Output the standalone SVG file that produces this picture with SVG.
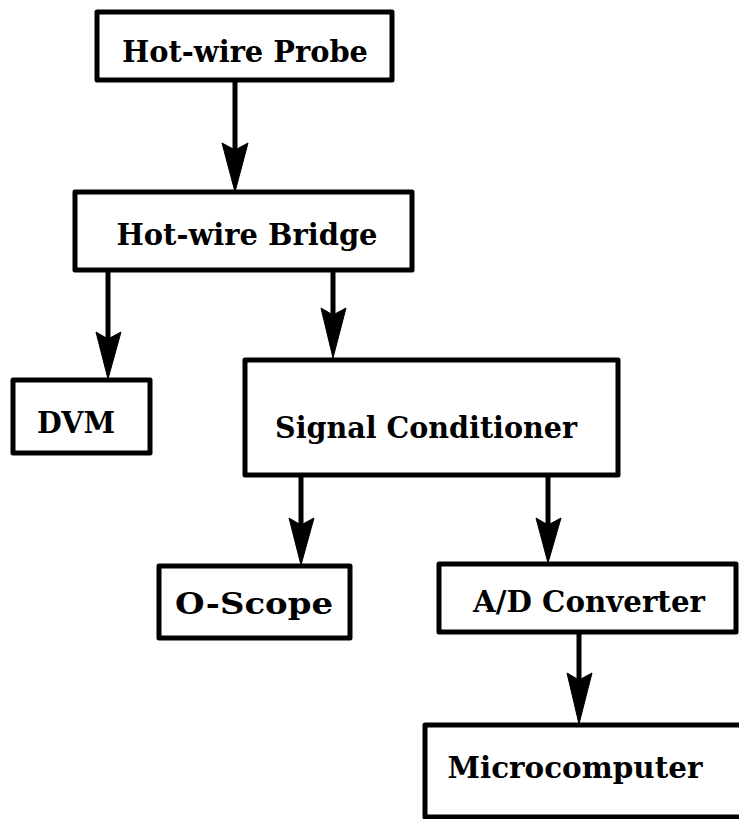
<svg xmlns="http://www.w3.org/2000/svg" width="739" height="819" viewBox="0 0 739 819">
<defs>
<style>
.box{fill:#fff;stroke:#000;stroke-width:5;stroke-linejoin:round}
.lbl{font-family:"DejaVu Serif","Liberation Serif",serif;font-weight:bold;font-size:30px;fill:#000;text-anchor:middle}
.edge{stroke:#000;stroke-width:5;fill:none}
.head{fill:#000;stroke:#000;stroke-width:1}
</style>
</defs>
<rect width="739" height="819" fill="#fff"/>
<g id="connectors">
<line class="edge" x1="235" y1="80" x2="235" y2="160"/>
<path class="head" d="M222,143 L235,150 L248,143 L235,192 Z"/>
<line class="edge" x1="108" y1="270" x2="108" y2="350"/>
<path class="head" d="M96,332 L108,339 L121,332 L108,379 Z"/>
<line class="edge" x1="333" y1="270" x2="333" y2="325"/>
<path class="head" d="M321,308 L333,315 L346,308 L333,358 Z"/>
<line class="edge" x1="301" y1="475" x2="301" y2="535"/>
<path class="head" d="M289,518 L301,525 L314,518 L301,565 Z"/>
<line class="edge" x1="548" y1="475" x2="548" y2="535"/>
<path class="head" d="M536,518 L548,525 L561,518 L548,563 Z"/>
<line class="edge" x1="579" y1="632" x2="579" y2="690"/>
<path class="head" d="M567,673 L579,680 L592,673 L579,724 Z"/>
</g>
<g id="probe"><rect class="box" x="97" y="12" width="295" height="68"/><text class="lbl" x="245" y="62" textLength="246" lengthAdjust="spacingAndGlyphs">Hot-wire Probe</text></g>
<g id="bridge"><rect class="box" x="75" y="192" width="337" height="78"/><text class="lbl" x="247" y="245" textLength="261" lengthAdjust="spacingAndGlyphs">Hot-wire Bridge</text></g>
<g id="dvm"><rect class="box" x="13" y="380" width="137" height="73"/><text class="lbl" x="76" y="433" textLength="78" lengthAdjust="spacingAndGlyphs">DVM</text></g>
<g id="signal"><rect class="box" x="245" y="360" width="373" height="115"/><text class="lbl" x="426" y="438" textLength="302" lengthAdjust="spacingAndGlyphs">Signal Conditioner</text></g>
<g id="oscope"><rect class="box" x="159" y="566" width="191" height="72"/><text class="lbl" x="254" y="614" textLength="158" lengthAdjust="spacingAndGlyphs">O-Scope</text></g>
<g id="adc"><rect class="box" x="439" y="564" width="297" height="68"/><text class="lbl" x="589" y="612" textLength="232" lengthAdjust="spacingAndGlyphs">A/D Converter</text></g>
<g id="micro"><rect class="box" x="425" y="725" width="320" height="92"/><text class="lbl" x="575" y="778" textLength="255" lengthAdjust="spacingAndGlyphs">Microcomputer</text></g>
</svg>
